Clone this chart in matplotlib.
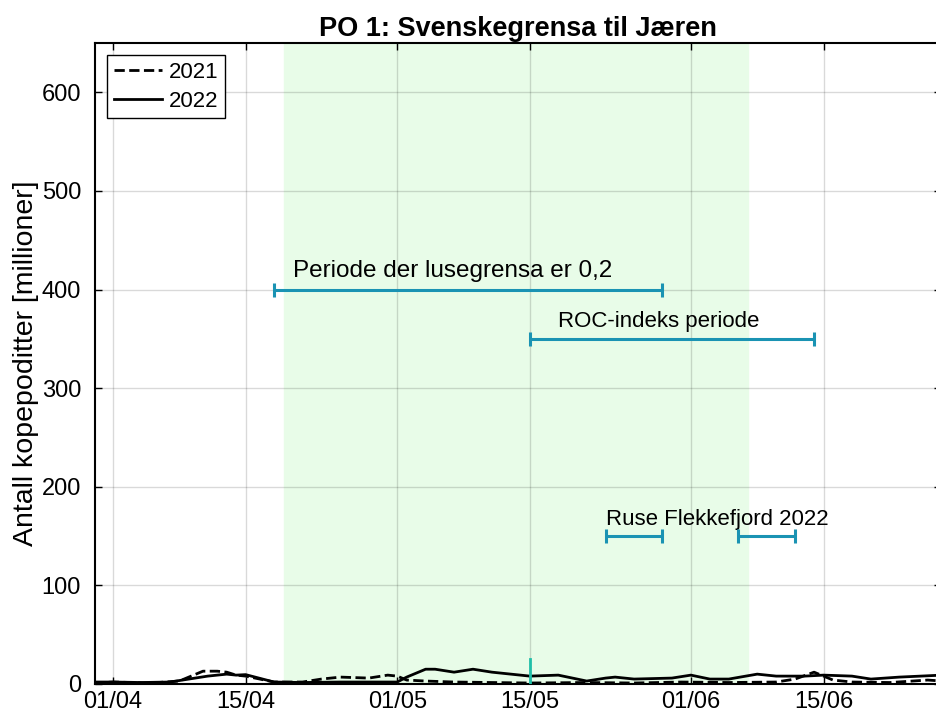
import matplotlib
matplotlib.use('Agg')
import matplotlib.pyplot as plt
import numpy as np

plt.rcParams['font.family'] = ['Liberation Sans', 'DejaVu Sans']

# x values are days counted from 01/04
tick_days = [0, 14, 30, 44, 61, 75]
tick_labels = ['01/04', '15/04', '01/05', '15/05', '01/06', '15/06']

days_2022 = [-2, 0, 3, 6, 8, 10, 12, 13, 14, 15, 17, 20, 24, 28, 30, 31, 33, 34, 36,
             38, 40, 42, 44, 47, 50, 52, 53, 55, 59, 61, 63, 65, 68, 70, 73, 75, 78,
             80, 83, 87.5]
vals_2022 = [2, 2, 1.5, 2, 5, 8, 10, 9, 9.5, 7, 2, 1.5, 2, 2, 2, 7, 15, 15, 12,
             15, 12, 10, 8, 9, 3, 6, 7, 5, 6, 9, 5, 5, 10, 8, 8, 9, 8,
             5, 7, 9]

days_2021 = [-2, 0, 4, 7, 8.5, 9.5, 11, 12, 13, 14, 15, 17, 20, 22, 24, 27, 29, 30,
             31, 33, 36, 40, 44, 50, 55, 60, 65, 70, 72, 74, 76, 78, 82, 86, 87.5]
vals_2021 = [1, 2, 1, 3, 9, 13, 13, 12, 9, 8, 6, 2, 2, 5, 7, 6, 9, 8,
             4, 3, 2, 1.5, 1, 1.5, 1, 2, 1.5, 2, 5, 12, 4, 2, 1.5, 4, 3]

# shaded period and annotated periods (start day, end day)
green_period = (18, 67)
lus_period = (17, 58)
roc_period = (44, 74)
ruse_periods = [(52, 58), (66, 72)]
lus_y, roc_y, ruse_y = 400, 350, 150

bar_col = '#1a93b3'

fig = plt.figure(figsize=(9.37, 7.2), dpi=100)
ax = fig.add_axes([95/937, 36/720, 846/937, 641/720])

ax.axvspan(green_period[0], green_period[1], color='#e8fce8', zorder=0)

ax.plot(days_2021, vals_2021, 'k--', lw=2, label='2021', zorder=3)
ax.plot(days_2022, vals_2022, 'k-', lw=2, label='2022', zorder=3)


def period_bar(start, end, y):
    ax.errorbar((start + end) / 2, y, xerr=(end - start) / 2, color=bar_col,
                lw=2.2, capsize=5, capthick=2.2, zorder=4)


period_bar(lus_period[0], lus_period[1], lus_y)
period_bar(roc_period[0], roc_period[1], roc_y)
for s, e in ruse_periods:
    period_bar(s, e, ruse_y)

ax.plot([44, 44], [0, 25], color='#1fbfa8', lw=2, zorder=4)

ax.text(19, 419, 'Periode der lusegrensa er 0,2', fontsize=17.5, va='center')
ax.text(47, 368, 'ROC-indeks periode', fontsize=16, va='center')
ax.text(52, 167, 'Ruse Flekkefjord 2022', fontsize=16, va='center')

ax.set_xlim(-1.9, 87.4)
ax.set_ylim(0, 650)
ax.set_xticks(tick_days)
ax.set_xticklabels(tick_labels)
ax.set_yticks(np.arange(0, 700, 100))
ax.tick_params(direction='in', top=True, right=True, length=5, width=1,
               labelsize=17)
ax.tick_params(axis='y', pad=10)
ax.tick_params(axis='x', pad=5)
ax.grid(True, color='black', alpha=0.15, lw=1)
ax.set_axisbelow(False)
for sp in ax.spines.values():
    sp.set_linewidth(1.5)

ax.set_ylabel('Antall kopepoditter [millioner]', fontsize=20.5, labelpad=2)
ax.set_title('PO 1: Svenskegrensa til Jæren', fontsize=19.5, fontweight='bold', pad=5)

leg = ax.legend(loc='upper left', fontsize=16, fancybox=False, edgecolor='black',
                framealpha=1, handlelength=2.2, handletextpad=0.3,
                borderpad=0.3, labelspacing=0.35, borderaxespad=0,
                bbox_to_anchor=(0.014, 0.981))
leg.get_frame().set_linewidth(1)

fig.savefig('out.png', dpi=100)
